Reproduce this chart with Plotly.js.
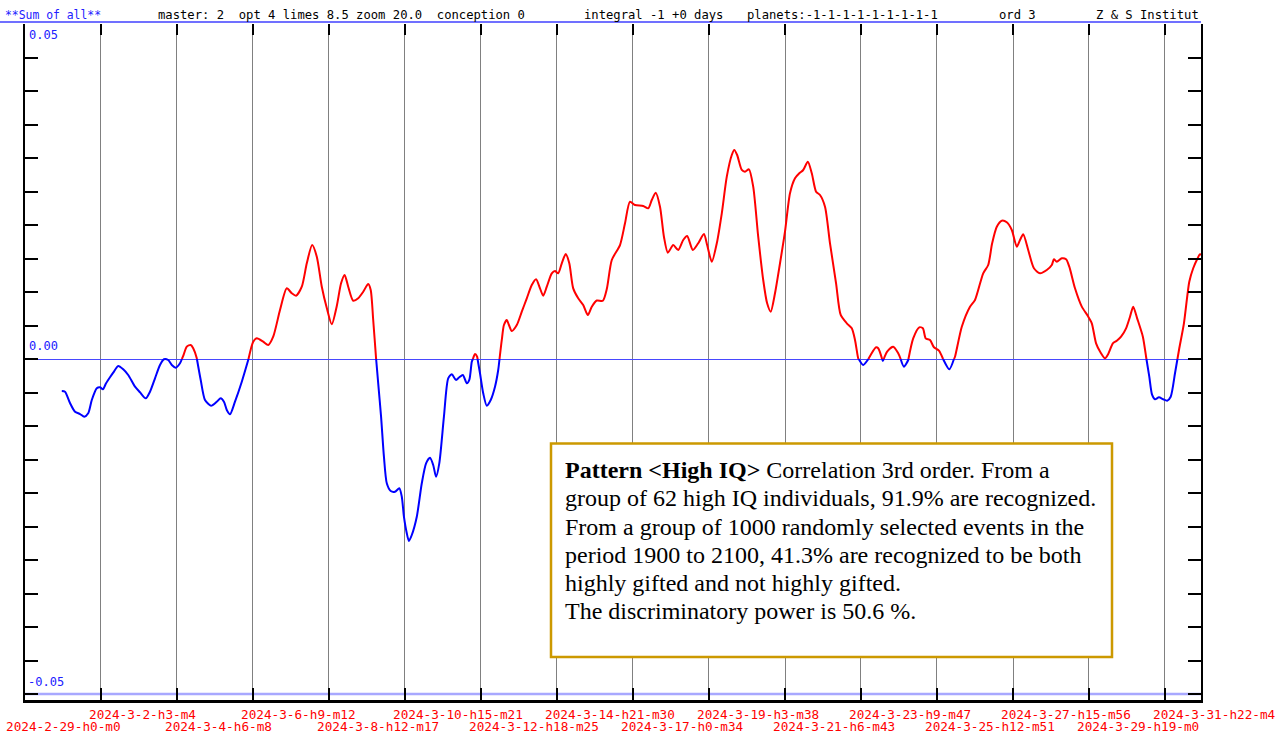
<!DOCTYPE html>
<html><head><meta charset="utf-8">
<script src="https://cdn.plot.ly/plotly-3.0.1.min.js"></script>
<style>html,body{margin:0;padding:0;background:#fff;overflow:hidden}#chart{width:1284px;height:734px}</style>
</head><body><div id="chart"></div>
<script>
// ---------- data ----------
const tickLabels = ['2024-2-29-h0-m0','2024-3-2-h3-m4','2024-3-4-h6-m8','2024-3-6-h9-m12','2024-3-8-h12-m17',
  '2024-3-10-h15-m21','2024-3-12-h18-m25','2024-3-14-h21-m30','2024-3-17-h0-m34','2024-3-19-h3-m38',
  '2024-3-21-h6-m43','2024-3-23-h9-m47','2024-3-25-h12-m51','2024-3-27-h15-m56','2024-3-29-h19-m0','2024-3-31-h22-m4'];

// days since 2024-02-29 00:00
const days = [1.03,1.12,1.26,1.40,1.54,1.66,1.77,1.87,2.01,2.10,2.18,2.27,2.38,2.47,2.61,2.75,2.89,3.08,3.22,3.38,
  3.50,3.64,3.78,3.89,4.01,4.11,4.22,4.34,4.43,4.53,4.64,4.71,4.81,4.92,5.04,5.21,5.37,5.48,5.57,5.65,
  5.74,5.88,6.07,6.25,6.39,6.49,6.67,6.81,6.95,7.14,7.33,7.47,7.59,7.75,7.89,8.04,8.17,8.31,8.45,8.59,
  8.73,8.85,8.95,9.05,9.19,9.33,9.47,9.61,9.68,9.75,9.83,9.89,9.97,10.05,10.13,10.24,10.36,10.48,10.55,10.61,
  10.69,10.75,10.83,10.97,11.11,11.23,11.34,11.43,11.51,11.60,11.73,11.85,11.95,12.07,12.16,12.26,12.37,12.44,12.51,12.60,
  12.66,12.74,12.83,12.93,13.04,13.16,13.25,13.35,13.41,13.49,13.55,13.63,13.77,13.91,14.05,14.19,14.31,14.42,14.51,14.61,
  14.75,14.84,14.93,15.03,15.14,15.24,15.35,15.49,15.63,15.76,15.87,16.01,16.18,16.29,16.43,16.66,16.80,16.94,17.08,17.31,
  17.45,17.55,17.66,17.78,17.89,18.00,18.15,18.29,18.43,18.54,18.70,18.85,19.01,19.10,19.23,19.37,19.51,19.65,19.79,19.86,
  19.94,20.07,20.16,20.27,20.39,20.53,20.67,20.78,20.88,21.00,21.14,21.28,21.42,21.56,21.68,21.79,21.92,22.03,22.15,22.26,
  22.40,22.54,22.71,22.84,23.01,23.15,23.24,23.33,23.47,23.61,23.83,23.89,24.02,24.14,24.31,24.45,24.61,24.73,24.87,25.04,
  25.14,25.22,25.34,25.45,25.59,25.71,25.88,26.04,26.23,26.46,26.60,26.83,26.97,27.08,27.21,27.35,27.49,27.63,27.77,27.86,
  27.95,28.09,28.25,28.42,28.61,28.75,28.81,28.89,29.03,29.15,29.24,29.40,29.59,29.76,29.87,29.99,30.12,30.24,30.33,30.46,
  30.57,30.69,30.83,30.94,31.03,31.14,31.30,31.39,31.48,31.56,31.64,31.75,31.87,31.98,32.08,32.20,32.32,32.45,32.60,32.71,
  32.82,32.90,32.98];

const values = [-0.00478,-0.00488,-0.00657,-0.00787,-0.00821,-0.00861,-0.00810,-0.00612,-0.00437,-0.00422,-0.00452,-0.00363,-0.00273,-0.00204,-0.00104,-0.00154,-0.00239,-0.00413,-0.00497,-0.00587,
  -0.00488,-0.00288,-0.00090,-0.00004,-0.00015,-0.00090,-0.00130,-0.00064,0.00045,0.00184,0.00209,0.00160,0.00010,-0.00313,-0.00612,-0.00697,-0.00637,-0.00587,-0.00637,-0.00761,
  -0.00825,-0.00637,-0.00339,-0.00015,0.00258,0.00309,0.00258,0.00209,0.00333,0.00731,0.01055,0.00981,0.00945,0.01079,0.01428,0.01701,0.01527,0.01079,0.00761,0.00518,
  0.00791,0.01130,0.01254,0.01079,0.00870,0.00906,0.01004,0.01119,0.01030,0.00582,0.00010,-0.00363,-0.00861,-0.01458,-0.01855,-0.01970,-0.01981,-0.01930,-0.02055,-0.02354,
  -0.02601,-0.02716,-0.02627,-0.02354,-0.01855,-0.01557,-0.01473,-0.01582,-0.01757,-0.01557,-0.00861,-0.00288,-0.00228,-0.00313,-0.00273,-0.00239,-0.00363,-0.00313,-0.00040,0.00075,
  0.00034,-0.00213,-0.00512,-0.00697,-0.00612,-0.00413,-0.00164,0.00284,0.00507,0.00582,0.00507,0.00418,0.00507,0.00706,0.00906,0.01104,0.01190,0.01055,0.00945,0.01079,
  0.01279,0.01313,0.01279,0.01428,0.01567,0.01428,0.01055,0.00906,0.00806,0.00657,0.00781,0.00873,0.00870,0.01045,0.01478,0.01701,0.02025,0.02348,0.02298,0.02284,
  0.02249,0.02373,0.02482,0.02273,0.01825,0.01587,0.01701,0.01627,0.01776,0.01836,0.01627,0.01727,0.01866,0.01701,0.01452,0.01727,0.02175,0.02721,0.03045,0.03119,
  0.03045,0.02821,0.02795,0.02831,0.02572,0.01825,0.01179,0.00831,0.00706,0.00981,0.01428,0.01900,0.02473,0.02697,0.02772,0.02821,0.02945,0.02772,0.02497,0.02448,
  0.02273,0.01727,0.01130,0.00657,0.00533,0.00458,0.00284,0.00010,-0.00090,-0.00004,0.00175,0.00160,-0.00030,0.00109,0.00184,0.00085,-0.00115,-0.00015,0.00309,0.00473,
  0.00458,0.00309,0.00284,0.00175,0.00124,-0.00004,-0.00154,0.00034,0.00482,0.00781,0.00881,0.01279,0.01403,0.01727,0.01975,0.02064,0.02040,0.01925,0.01676,0.01776,
  0.01861,0.01627,0.01354,0.01279,0.01328,0.01403,0.01488,0.01452,0.01503,0.01488,0.01378,0.01055,0.00781,0.00642,0.00533,0.00234,0.00094,0.00010,0.00075,0.00234,
  0.00273,0.00333,0.00458,0.00631,0.00781,0.00607,0.00333,0.00034,-0.00264,-0.00537,-0.00601,-0.00572,-0.00601,-0.00622,-0.00563,-0.00213,0.00160,0.00533,0.01154,0.01354,
  0.01488,0.01563,0.01537];

const yLabelValues = [0.05, 0.00, -0.05];
const yLabelTexts = ['0.05', '0.00', '-0.05'];
const headerTexts = ['**Sum of all**', 'master: 2  opt 4 limes 8.5 zoom 20.0  conception 0',
  'integral -1 +0 days', 'planets:-1-1-1-1-1-1-1-1-1', 'ord 3', 'Z & S Institut'];
const noteLines = ['<b>Pattern &lt;High IQ&gt;</b> Correlation 3rd order. From a',
  'group of 62 high IQ individuals, 91.9% are recognized.',
  'From a group of 1000 randomly selected events in the',
  'period 1900 to 2100, 41.3% are recognized to be both',
  'highly gifted and not highly gifted.',
  'The discriminatory power is 50.6 %.'];

// ---------- layout helpers ----------
const W = 1284, H = 734, L = 25, R = 1201, T = 24, B = 700;
const px = x => (x - L) / (R - L);
const py = y => (B - y) / (B - T);
const DAY_PX = 0.028; // days per pixel of the reference axis
const xRange = [0, (R - L) * DAY_PX];
const yRange = [0.05 - (B - T) / 335 * 0.05, 0.05];

const start = Date.UTC(2024, 1, 29);
const tickVals = tickLabels.map(s => {
  const m = s.match(/(\d+)-(\d+)-(\d+)-h(\d+)-m(\d+)/);
  return (Date.UTC(+m[1], +m[2] - 1, +m[3], +m[4], +m[5]) - start) / 86400000;
});

// split the line at zero into red (>=0) and blue (<0) parts
const red = {x: [], y: []}, blue = {x: [], y: []};
for (let i = 0; i < days.length; i++) {
  const cur = values[i] >= 0 ? red : blue;
  cur.x.push(days[i]); cur.y.push(values[i]);
  if (i + 1 < days.length) {
    const nxt = values[i + 1] >= 0 ? red : blue;
    if (nxt !== cur) {
      const t = values[i] / (values[i] - values[i + 1]);
      const xc = days[i] + t * (days[i + 1] - days[i]);
      cur.x.push(xc, null); cur.y.push(0, null);
      nxt.x.push(xc); nxt.y.push(0);
    }
  }
}

const lineStyle = c => ({color: c, width: 2, shape: 'spline', smoothing: 0.7});
const traces = [
  {x: red.x, y: red.y, type: 'scatter', mode: 'lines', line: lineStyle('#ff0000'), connectgaps: false, hoverinfo: 'skip'},
  {x: blue.x, y: blue.y, type: 'scatter', mode: 'lines', line: lineStyle('#0000ff'), connectgaps: false, hoverinfo: 'skip'},
  {x: [], y: [], xaxis: 'x2', yaxis: 'y', type: 'scatter', mode: 'lines', showlegend: false}
];

const mono = "'DejaVu Sans Mono', 'Liberation Mono', monospace";
const annotations = [];
// header
const headerX = [3, 156, 582, 745, 997, 1094];
headerTexts.forEach((t, i) => annotations.push({
  xref: 'paper', yref: 'paper', x: px(headerX[i]), y: py(15), xanchor: 'left', yanchor: 'middle',
  text: t.replace(/ /g, '\u00a0'), showarrow: false,
  font: {family: mono, size: i === 0 ? 11.4 : 12.2, color: i === 0 ? '#2020ff' : '#000000'}
}));
// y labels
const yLabelPx = [35, 346, 682];
yLabelValues.forEach((v, i) => annotations.push({
  xref: 'paper', yref: 'paper', x: px(i === 2 ? 26 : 27), y: py(yLabelPx[i]), xanchor: 'left', yanchor: 'middle',
  text: yLabelTexts[i], showarrow: false, font: {family: mono, size: 12, color: '#2020ff'}
}));
// x tick labels in two rows
tickLabels.forEach((t, i) => annotations.push({
  xref: 'x', yref: 'paper', x: tickVals[i], y: py(i % 2 ? 714 : 726), xanchor: 'left', yanchor: 'middle',
  xshift: i === 0 ? -21 : -14, text: t, showarrow: false, font: {family: mono, size: 12.7, color: '#ff0000'}
}));
// note box text, one line per annotation
const noteY = [470, 498, 527, 555, 583, 611];
noteLines.forEach((t, i) => annotations.push({
  xref: 'paper', yref: 'paper', x: px(563), y: py(noteY[i]), xanchor: 'left', yanchor: 'middle', align: 'left',
  text: t, showarrow: false,
  font: {family: "'Liberation Serif', 'Times New Roman', serif", size: 24, color: '#000000'}
}));

const shapes = [
  // header rule
  {type: 'line', xref: 'paper', yref: 'paper', x0: px(0), x1: 1, y0: py(22), y1: py(22), line: {color: '#4040ff', width: 1.5}},
  // light blue line at -0.05
  {type: 'line', xref: 'paper', yref: 'y', x0: 0, x1: 1, y0: -0.05, y1: -0.05, line: {color: '#a8a8ff', width: 2.5}, layer: 'below'},
  // note box
  {type: 'rect', xref: 'paper', yref: 'paper', x0: px(551), x1: px(1112), y0: py(443.5), y1: py(657),
   line: {color: '#cc9900', width: 2.5}, fillcolor: '#ffffff', layer: 'above'}
];

const layout = {
  width: W, height: H,
  margin: {l: L, r: W - R, t: T, b: H - B, pad: 0},
  paper_bgcolor: '#ffffff', plot_bgcolor: '#ffffff',
  showlegend: false,
  xaxis: {
    range: xRange, tickmode: 'array', tickvals: tickVals, ticktext: tickLabels.map(() => ''),
    showgrid: true, gridcolor: '#808080', gridwidth: 1,
    ticks: 'inside', ticklen: 12, tickwidth: 2, tickcolor: '#000000',
    showline: true, linecolor: '#000000', linewidth: 3, zeroline: false, fixedrange: true
  },
  xaxis2: {
    overlaying: 'x', matches: 'x', side: 'top', anchor: 'y', range: xRange,
    tickmode: 'array', tickvals: tickVals, showticklabels: false,
    ticks: 'inside', ticklen: 11, tickwidth: 2, tickcolor: '#000000',
    showgrid: false, showline: false, zeroline: false
  },
  yaxis: {
    range: yRange, tickmode: 'linear', tick0: -0.05, dtick: 0.005, showticklabels: false,
    ticks: 'inside', ticklen: 13, tickwidth: 2, tickcolor: '#000000',
    showline: true, linecolor: '#000000', linewidth: 2, mirror: 'ticks',
    showgrid: false, zeroline: true, zerolinecolor: '#4848ff', zerolinewidth: 1, fixedrange: true
  },
  annotations: annotations,
  shapes: shapes
};

Plotly.newPlot('chart', traces, layout, {staticPlot: true, displayModeBar: false});
</script>
</body></html>
